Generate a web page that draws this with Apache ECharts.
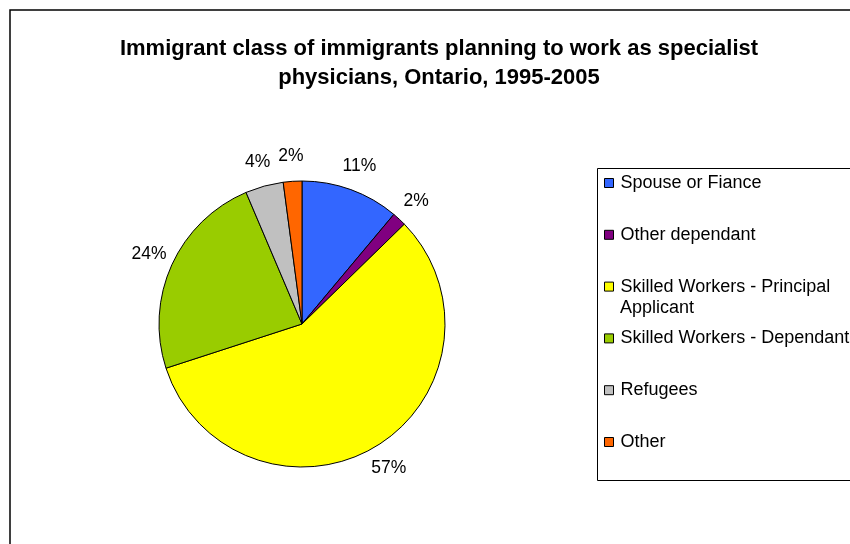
<!DOCTYPE html>
<html><head><meta charset="utf-8">
<script src="https://cdn.jsdelivr.net/npm/echarts@6/dist/echarts.min.js"></script>
<style>html,body{margin:0;padding:0;background:#fff}#c{width:850px;height:544px}</style>
</head><body><div id="c"></div>
<script>
const titleText = 'Immigrant class of immigrants planning to work as specialist\nphysicians, Ontario, 1995-2005';
const categories = ['Spouse or Fiance','Other dependant','Skilled Workers - Principal Applicant','Skilled Workers - Dependant','Refugees','Other'];
const values = [11.1, 1.6, 57.3, 23.6, 4.3, 2.1];
const colors = ['#3366FF','#800080','#FFFF00','#99CC00','#C0C0C0','#FF6600'];

const chart = echarts.init(document.getElementById('c'), null, {renderer:'canvas'});
const FONT = '"Liberation Sans", Arial, sans-serif';
const pieData = categories.map((c,i)=>({name:c,value:values[i],itemStyle:{color:colors[i]}}));
const labelData = categories.map((c,i)=>({name:c,value:values[i]}));
chart.setOption({
  animation:false,
  backgroundColor:'#fff',
  color:colors,
  title:{text:titleText,left:434,textAlign:'center',top:29,
    textStyle:{fontFamily:FONT,fontSize:22,fontWeight:'bold',color:'#000',lineHeight:29}},
  graphic:[
    {type:'rect',shape:{x:10,y:10,width:900,height:600},style:{fill:null,stroke:'#000',lineWidth:1.5},z:-1},
    {type:'rect',shape:{x:597.5,y:168.5,width:300,height:312},style:{fill:null,stroke:'#000',lineWidth:1},z:-1},
    {type:'text',left:620,top:299,style:{text:'Applicant',font:'18px "Liberation Sans", Arial, sans-serif',fill:'#000'}}
  ],
  legend:{orient:'vertical',left:604,top:174,padding:0,itemWidth:9,itemHeight:9,itemGap:33.8,
    icon:'rect',
    itemStyle:{borderColor:'#000',borderWidth:1},
    formatter:function(n){return n==='Skilled Workers - Principal Applicant'?'Skilled Workers - Principal':n;},
    textStyle:{fontFamily:FONT,fontSize:18,color:'#000',lineHeight:18,padding:[0,0,0,2]},
    data:categories},
  series:[{
    type:'pie',center:[302,324],radius:143,startAngle:90,clockwise:true,
    data:pieData,
    itemStyle:{borderColor:'#000',borderWidth:1},
    label:{show:false},
    labelLine:{show:false},
    emphasis:{disabled:true}
  },{
    type:'pie',center:[302,324],radius:[157,173],startAngle:90,clockwise:true,silent:true,
    data:labelData,
    itemStyle:{color:'rgba(0,0,0,0)',opacity:0,borderWidth:0},
    label:{show:true,position:'inside',fontFamily:FONT,fontSize:17.5,color:'#000',opacity:1,
      formatter:p=>Math.round(p.value)+'%'},
    labelLine:{show:false},
    emphasis:{disabled:true}
  }]
});
</script></body></html>
